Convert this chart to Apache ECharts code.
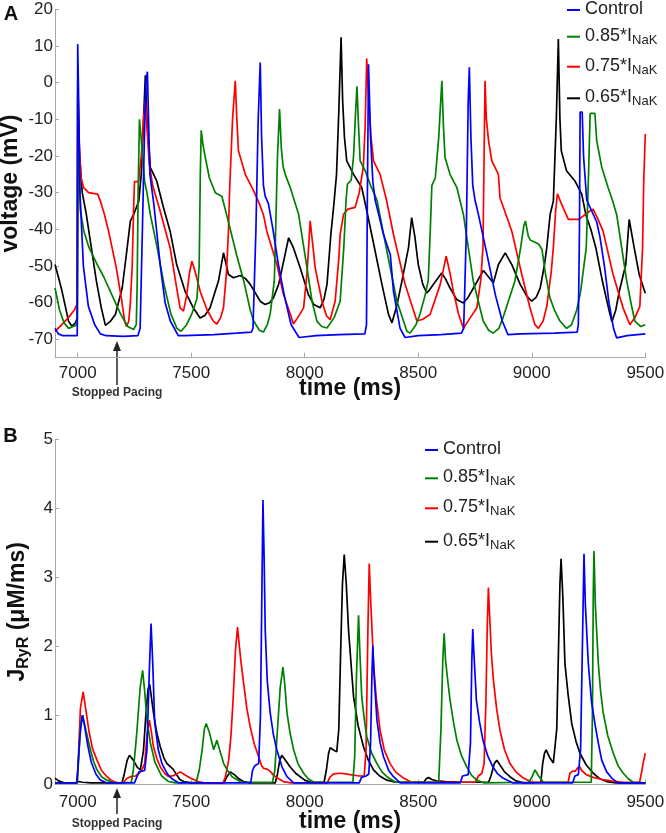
<!DOCTYPE html>
<html><head><meta charset="utf-8">
<script src="https://cdn.jsdelivr.net/npm/echarts@6/dist/echarts.min.js"></script>
<style>html,body{margin:0;padding:0;background:#fff}#c{width:666px;height:833px}</style>
</head><body><div id="c"></div>
<script>
// ---------- DATA (time ms, value) ----------
const seriesNames = ['Control', '0.85*I_NaK', '0.75*I_NaK', '0.65*I_NaK'];
const seriesColors = ['#0000ff', '#008000', '#ff0000', '#000000'];
const xTicks = [7000, 7500, 8000, 8500, 9000, 9500];
const voltTicks = [-70, -60, -50, -40, -30, -20, -10, 0, 10, 20];
const jryrTicks = [0, 1, 2, 3, 4, 5];
const pacingStopTime = 7173;

// Panel A: membrane voltage (mV)
const voltControl = [[6900,-67],[6915,-68.5],[6935,-69],[6998,-69],[7000,10.5],[7003,0],[7010,-30],[7025,-50],[7047,-61],[7075,-66],[7100,-68.5],[7125,-69],[7200,-69.2],[7265,-69],[7275,-67],[7285,-40],[7292,-20],[7300,0],[7307,3],[7312,-10],[7318,-25],[7335,-33],[7364,-50],[7385,-60],[7408,-65],[7443,-69],[7470,-69],[7600,-68.7],[7700,-68.3],[7765,-68],[7772,-67],[7785,-40],[7795,-10],[7804,5.5],[7810,-15],[7818,-28],[7826,-31],[7840,-33],[7860,-40],[7885,-50],[7910,-58],[7940,-66],[7975,-69.5],[8050,-69],[8150,-68.7],[8265,-68.5],[8272,-66],[8276,-30],[8281,5],[8290,-15],[8300,-27],[8310,-32],[8330,-37],[8345,-41],[8377,-47],[8391,-57],[8420,-67],[8442,-69.5],[8500,-69],[8600,-68.7],[8690,-68.3],[8700,-67],[8712,-40],[8720,-5],[8725,4.2],[8732,-15],[8740,-28],[8750,-32],[8765,-36],[8800,-46],[8840,-58],[8870,-65],[8895,-68.7],[8950,-68.5],[9100,-68.3],[9200,-68],[9205,-66],[9210,-40],[9213,-8],[9222,-8],[9228,-20],[9242,-32],[9286,-38],[9300,-42],[9320,-50],[9340,-60],[9360,-67],[9374,-69.6],[9420,-69],[9500,-68.5]];
const voltNaK85 = [[6900,-56],[6920,-62],[6940,-65.5],[6960,-67],[6980,-66.5],[6998,-66],[7000,0.5],[7004,-20],[7012,-35],[7027,-40.5],[7050,-45],[7085,-49.5],[7115,-53],[7144,-57],[7188,-63],[7220,-66.5],[7246,-67.3],[7258,-66],[7262,-55],[7266,-30],[7272,-10],[7278,-14],[7285,-20],[7295,-27],[7305,-30],[7320,-36],[7350,-45],[7380,-55],[7410,-63],[7437,-67],[7455,-67.8],[7480,-66],[7503,-63],[7525,-59],[7535,-50],[7540,-25],[7544,-13],[7552,-17],[7562,-20.4],[7580,-26],[7606,-30],[7620,-30.5],[7635,-31],[7660,-37],[7700,-47],[7731,-54],[7760,-62],[7775,-65],[7800,-67.5],[7818,-68],[7835,-66],[7848,-63],[7866,-54],[7872,-40],[7880,-20],[7889,-7.2],[7897,-18],[7905,-23],[7914,-25],[7936,-28.6],[7973,-35.9],[8010,-50.5],[8032,-59.6],[8054,-65.1],[8075,-66.5],[8098,-66.9],[8130,-64],[8156,-59.6],[8172,-45],[8182,-32],[8188,-27.7],[8205,-26.5],[8215,-20],[8224,-8],[8230,-1],[8237,-12],[8244,-21.3],[8266,-24],[8290,-28],[8318,-32],[8362,-46],[8406,-59.6],[8450,-67.8],[8464,-68.3],[8490,-66],[8508,-63],[8530,-58],[8544,-54],[8553,-40],[8560,-28],[8575,-26],[8590,-15],[8604,0.5],[8611,-12],[8618,-20.4],[8640,-25],[8670,-28.6],[8699,-36],[8742,-54],[8786,-65],[8810,-67.5],[8830,-68.3],[8855,-67],[8874,-64],[8900,-59],[8926,-54],[8951,-45],[8965,-39],[8972,-37.7],[8985,-42],[8995,-43],[9030,-44],[9045,-45.5],[9060,-52],[9080,-58.7],[9100,-62],[9124,-65],[9153,-67],[9175,-66],[9198,-62],[9215,-57],[9240,-45],[9250,-25],[9257,-8.4],[9278,-8.4],[9286,-15.9],[9308,-23],[9336,-28.6],[9355,-32],[9374,-36],[9396,-45],[9418,-54],[9440,-61],[9454,-65],[9480,-66.5],[9500,-66]];
const voltNaK75 = [[6900,-67.8],[6930,-66],[6960,-64],[6985,-62],[6997,-60.4],[7000,-3.3],[7005,-15],[7015,-26],[7026,-28.6],[7048,-30],[7088,-30.4],[7100,-32.3],[7118,-36],[7136,-40.5],[7170,-50.5],[7192,-58.7],[7207,-65.1],[7215,-66.5],[7225,-65],[7232,-60],[7240,-50],[7246,-35],[7250,-27],[7268,-27],[7280,-20],[7290,-10],[7298,-4.6],[7305,-12],[7315,-22],[7330,-28],[7363,-35],[7407,-45],[7436,-56],[7451,-61.4],[7466,-62.3],[7480,-58],[7492,-52],[7503,-48.7],[7515,-51],[7540,-57],[7570,-62],[7598,-65.1],[7613,-65.8],[7630,-64],[7642,-61.4],[7655,-52],[7664,-40.5],[7669,-29.5],[7672,-25],[7682,-10],[7694,0.5],[7701,-10],[7708,-18.6],[7738,-25],[7775,-29.5],[7800,-33],[7818,-36],[7833,-40.5],[7877,-49.5],[7906,-57.7],[7936,-63],[7950,-65.8],[7970,-64],[7995,-61.4],[8010,-52],[8024,-37.7],[8035,-44],[8046,-50.5],[8076,-59.6],[8095,-63.5],[8112,-64.6],[8134,-59.6],[8150,-48],[8156,-41.4],[8171,-35.9],[8190,-34.5],[8222,-34],[8240,-30],[8258,-23],[8266,-12],[8273,6.6],[8282,-5],[8292,-15],[8303,-21.3],[8332,-25],[8360,-32],[8391,-41.4],[8442,-55],[8494,-65],[8520,-64.5],[8552,-63.2],[8597,-55],[8623,-47.3],[8640,-52],[8655,-57],[8677,-63],[8699,-67],[8730,-64],[8758,-61.4],[8775,-54],[8785,-45],[8790,-20],[8794,0.5],[8800,-10],[8810,-16],[8824,-21.3],[8853,-25],[8860,-31.4],[8912,-40.5],[8956,-52.3],[8992,-61.4],[9014,-66],[9029,-67],[9050,-65],[9066,-61],[9085,-52],[9095,-45],[9105,-35],[9113,-30.3],[9130,-33],[9161,-37.3],[9205,-37.3],[9235,-36],[9256,-35],[9270,-34.5],[9290,-37],[9314,-40.5],[9358,-52.3],[9402,-61.4],[9432,-66],[9455,-64],[9476,-61],[9488,-45],[9493,-27],[9500,-14]];
const voltNaK65 = [[6900,-49.6],[6915,-53],[6931,-56.9],[6960,-65.1],[6975,-66.4],[6990,-65.5],[6998,-64.2],[7002,-4],[7008,-20],[7020,-30],[7038,-35.9],[7060,-45],[7082,-54],[7104,-61.4],[7122,-66.2],[7145,-65],[7166,-63.2],[7196,-56],[7218,-45],[7232,-37.7],[7247,-35.9],[7269,-32.3],[7280,-25],[7290,-10],[7298,2],[7305,-10],[7320,-23.2],[7348,-26.8],[7378,-34.1],[7407,-40.5],[7436,-49.6],[7473,-56.9],[7509,-61.4],[7539,-64.2],[7560,-63.5],[7583,-61.4],[7605,-57],[7620,-54.1],[7642,-46.4],[7664,-52.3],[7686,-53.2],[7715,-52.6],[7740,-53.5],[7760,-55],[7804,-59.6],[7825,-60.5],[7845,-60],[7862,-58.7],[7885,-55],[7906,-49],[7929,-42.3],[7950,-45],[7980,-50.5],[8016,-57.8],[8040,-60.5],[8068,-61.4],[8085,-59],[8098,-55],[8115,-41.4],[8127,-34],[8140,-25],[8150,-8],[8160,12.4],[8167,-5],[8175,-15],[8185,-21.3],[8215,-25],[8251,-28.6],[8270,-34],[8295,-41.4],[8340,-55],[8369,-63.2],[8384,-65.5],[8405,-61],[8428,-54.1],[8457,-45],[8471,-36.8],[8485,-42],[8500,-49.6],[8520,-55],[8537,-57.3],[8550,-56.5],[8567,-55],[8603,-51.9],[8620,-53.5],[8640,-56],[8669,-59.1],[8699,-60.1],[8720,-58.5],[8743,-56],[8787,-51.2],[8810,-53],[8831,-54.6],[8853,-49.6],[8883,-46.4],[8912,-49.6],[8949,-55],[8978,-58.2],[9000,-59.6],[9020,-58.5],[9037,-56],[9055,-50],[9066,-45],[9081,-35.9],[9095,-32.3],[9108,-10],[9117,11.9],[9124,-10],[9130,-18.6],[9153,-24],[9190,-26.8],[9220,-30.4],[9238,-36],[9260,-40],[9282,-45],[9311,-54.1],[9341,-62.3],[9353,-65.2],[9370,-62],[9385,-57],[9414,-49.6],[9429,-37.3],[9451,-45],[9473,-52.3],[9500,-57.4]];

// Panel B: RyR release flux (µM/ms)
const jryrControl = [[6900,0.02],[6995,0.02],[7000,0.2],[7010,0.7],[7020,1.0],[7030,0.85],[7045,0.55],[7060,0.32],[7080,0.15],[7100,0.06],[7130,0.02],[7250,0.02],[7260,0.1],[7270,0.18],[7295,0.2],[7305,0.5],[7315,1.6],[7323,2.33],[7330,1.8],[7339,0.9],[7355,0.5],[7371,0.3],[7395,0.15],[7415,0.08],[7445,0.02],[7762,0.02],[7770,0.2],[7780,0.27],[7797,0.3],[7805,1.0],[7812,3.0],[7816,4.12],[7821,3.3],[7826,2.23],[7835,1.5],[7848,1.03],[7862,0.72],[7877,0.5],[7900,0.25],[7922,0.11],[7951,0.02],[8240,0.02],[8250,0.1],[8270,0.12],[8282,0.15],[8290,0.6],[8296,1.6],[8300,2.01],[8305,1.6],[8318,0.93],[8332,0.6],[8347,0.4],[8370,0.2],[8391,0.11],[8420,0.02],[8685,0.02],[8695,0.12],[8720,0.14],[8730,0.6],[8736,1.8],[8740,2.25],[8745,1.9],[8756,1.22],[8770,0.9],[8785,0.64],[8805,0.42],[8829,0.25],[8850,0.15],[8873,0.09],[8917,0.02],[9180,0.02],[9190,0.12],[9205,0.14],[9215,0.5],[9224,2.2],[9230,3.34],[9236,2.6],[9249,1.75],[9263,1.2],[9278,0.88],[9293,0.6],[9308,0.35],[9330,0.18],[9352,0.09],[9380,0.02],[9500,0.02]];
const jryrNaK85 = [[6900,0.02],[6998,0.02],[7003,0.3],[7012,0.85],[7022,1.0],[7035,0.8],[7056,0.5],[7070,0.33],[7085,0.21],[7105,0.11],[7129,0.06],[7160,0.02],[7236,0.03],[7245,0.2],[7255,0.55],[7261,0.78],[7275,1.4],[7286,1.65],[7295,1.35],[7305,0.93],[7320,0.6],[7340,0.32],[7370,0.12],[7400,0.04],[7430,0.02],[7522,0.03],[7535,0.2],[7548,0.5],[7558,0.8],[7566,0.88],[7580,0.75],[7599,0.5],[7613,0.64],[7625,0.5],[7643,0.3],[7660,0.2],[7680,0.11],[7720,0.03],[7858,0.03],[7868,0.2],[7880,0.8],[7892,1.4],[7904,1.7],[7912,1.45],[7922,1.03],[7935,0.75],[7951,0.5],[7970,0.3],[7995,0.16],[8015,0.08],[8040,0.03],[8212,0.03],[8220,0.4],[8228,1.6],[8237,2.45],[8243,1.9],[8251,1.27],[8262,0.95],[8273,0.69],[8295,0.45],[8318,0.3],[8340,0.18],[8362,0.11],[8400,0.03],[8590,0.03],[8600,0.8],[8608,1.8],[8614,2.19],[8620,1.8],[8630,1.5],[8640,1.22],[8655,0.9],[8670,0.64],[8690,0.42],[8714,0.25],[8735,0.13],[8758,0.06],[8790,0.02],[8985,0.03],[9000,0.1],[9014,0.21],[9030,0.12],[9051,0.03],[9262,0.03],[9267,1.0],[9271,2.8],[9274,3.38],[9280,2.6],[9293,1.75],[9303,1.35],[9315,1.03],[9335,0.7],[9359,0.45],[9380,0.27],[9403,0.16],[9425,0.08],[9447,0.03],[9500,0.02]];
const jryrNaK75 = [[6900,0.02],[6998,0.02],[7003,0.4],[7012,1.1],[7024,1.34],[7035,1.1],[7049,0.78],[7065,0.52],[7085,0.35],[7105,0.2],[7129,0.11],[7150,0.05],[7175,0.02],[7200,0.02],[7215,0.08],[7232,0.11],[7255,0.12],[7270,0.16],[7283,0.21],[7295,0.3],[7305,0.7],[7316,0.93],[7325,0.75],[7334,0.54],[7348,0.38],[7364,0.25],[7385,0.15],[7400,0.11],[7425,0.13],[7452,0.18],[7475,0.13],[7496,0.09],[7530,0.04],[7555,0.02],[7640,0.02],[7650,0.1],[7665,0.35],[7675,0.7],[7684,1.2],[7695,1.95],[7704,2.28],[7712,2.0],[7720,1.75],[7731,1.46],[7745,1.1],[7760,0.83],[7778,0.58],[7797,0.4],[7810,0.27],[7819,0.23],[7835,0.22],[7850,0.18],[7863,0.13],[7885,0.08],[7906,0.04],[7940,0.02],[8100,0.02],[8110,0.1],[8127,0.15],[8160,0.16],[8200,0.14],[8240,0.12],[8262,0.12],[8270,0.5],[8278,2.2],[8284,3.2],[8290,2.7],[8303,1.75],[8315,1.25],[8332,0.78],[8350,0.5],[8376,0.3],[8400,0.18],[8435,0.09],[8470,0.03],[8750,0.03],[8765,0.12],[8780,0.16],[8790,0.3],[8798,1.2],[8804,2.3],[8809,2.85],[8815,2.4],[8822,1.9],[8831,1.51],[8845,1.1],[8860,0.78],[8880,0.5],[8904,0.3],[8930,0.18],[8963,0.09],[9000,0.03],[9160,0.03],[9168,0.16],[9180,0.19],[9192,0.19],[9200,0.23],[9210,0.26],[9220,0.2],[9240,0.14],[9270,0.1],[9310,0.07],[9350,0.05],[9400,0.03],[9475,0.03],[9485,0.2],[9490,0.3],[9500,0.45]];
const jryrNaK65 = [[6900,0.09],[6915,0.05],[6940,0.02],[6995,0.02],[7005,0.04],[7020,0.03],[7060,0.02],[7195,0.02],[7205,0.15],[7218,0.35],[7228,0.42],[7245,0.35],[7262,0.25],[7276,0.21],[7290,0.5],[7300,1.0],[7310,1.38],[7317,1.45],[7325,1.25],[7334,1.03],[7348,0.75],[7364,0.54],[7380,0.38],[7393,0.3],[7403,0.27],[7411,0.28],[7420,0.22],[7437,0.13],[7450,0.07],[7466,0.04],[7500,0.02],[7645,0.02],[7655,0.1],[7672,0.18],[7690,0.14],[7710,0.08],[7730,0.04],[7760,0.02],[7870,0.02],[7880,0.15],[7890,0.35],[7899,0.42],[7915,0.35],[7936,0.25],[7960,0.16],[7980,0.11],[8000,0.06],[8025,0.03],[8085,0.03],[8095,0.2],[8105,0.45],[8112,0.53],[8125,0.5],[8141,0.47],[8150,0.8],[8158,1.9],[8166,2.9],[8174,3.33],[8183,2.9],[8193,2.23],[8205,1.7],[8215,1.27],[8235,0.85],[8259,0.54],[8280,0.35],[8303,0.21],[8330,0.12],[8362,0.06],[8400,0.03],[8525,0.03],[8535,0.08],[8545,0.1],[8560,0.07],[8580,0.05],[8620,0.04],[8700,0.03],[8810,0.03],[8820,0.12],[8835,0.3],[8846,0.35],[8860,0.28],[8880,0.18],[8904,0.11],[8930,0.05],[8965,0.02],[9040,0.03],[9048,0.3],[9056,0.45],[9063,0.5],[9080,0.38],[9095,0.31],[9102,0.3],[9110,0.8],[9118,2.0],[9124,2.9],[9129,3.27],[9137,2.7],[9146,1.75],[9160,1.3],[9176,0.88],[9195,0.62],[9212,0.45],[9240,0.28],[9271,0.16],[9300,0.08],[9330,0.04],[9370,0.02],[9500,0.02]];

const voltData = [voltControl, voltNaK85, voltNaK75, voltNaK65];
const jryrData = [jryrControl, jryrNaK85, jryrNaK75, jryrNaK65];

// ---------- STYLE ----------
const FONT = 'Liberation Sans, Arial, sans-serif';
const AXIS_GRAY = '#a8a8a8';
const TXT = '#222';

const chart = echarts.init(document.getElementById('c'), null, {renderer: 'canvas'});

function xAxisFor(gridIndex, labelMargin, nameGap) {
  return {
    type: 'value', gridIndex, min: 6900, max: 9500,
    name: 'time (ms)', nameLocation: 'middle', nameGap, nameMoveOverlap: false,
    nameTextStyle: {fontFamily: FONT, fontSize: 23, fontWeight: 'bold', color: '#111', verticalAlign: 'middle'},
    axisLine: {show: true, onZero: false, lineStyle: {color: AXIS_GRAY, width: 1}},
    axisTick: {show: true, inside: true, length: 5, lineStyle: {color: AXIS_GRAY}, customValues: xTicks},
    axisLabel: {fontFamily: FONT, fontSize: 17, color: TXT, margin: labelMargin, customValues: xTicks, formatter: (v) => String(v)},
    splitLine: {show: false}
  };
}

function legendRows(left, tops) {
  return seriesNames.map((n, i) => ({
    data: [n], left, top: tops[i], padding: 0, orient: 'vertical',
    icon: 'rect', itemWidth: 13, itemHeight: 2, selectedMode: false,
    formatter: (name) => name === 'Control' ? '{m|Control}' : '{m|' + name.split('_')[0] + '}{s|NaK}',
    textStyle: {
      rich: {
        m: {fontFamily: FONT, fontSize: 18, color: TXT, lineHeight: 20, verticalAlign: 'top'},
        s: {fontFamily: FONT, fontSize: 13, color: TXT, lineHeight: 13, padding: [12, 0, 0, 0], verticalAlign: 'bottom'}
      }
    }
  }));
}

const series = [];
voltData.forEach((d, i) => series.push({
  name: seriesNames[i], type: 'line', xAxisIndex: 0, yAxisIndex: 0, data: d,
  showSymbol: false, symbol: 'none', lineStyle: {width: 1.7, color: seriesColors[i]},
  itemStyle: {color: seriesColors[i]}, z: 10 - i
}));
jryrData.forEach((d, i) => series.push({
  name: seriesNames[i], type: 'line', xAxisIndex: 1, yAxisIndex: 1, data: d,
  showSymbol: false, symbol: 'none', lineStyle: {width: 1.7, color: seriesColors[i]},
  itemStyle: {color: seriesColors[i]}, z: 10 - i
}));

const option = {
  animation: false,
  backgroundColor: '#fff',
  grid: [
    {left: 55, top: 9.3, width: 590.3, height: 348.4, containLabel: false, outerBoundsMode: 'none'},
    {left: 55, top: 439.3, width: 590.3, height: 345, containLabel: false, outerBoundsMode: 'none'}
  ],
  xAxis: [xAxisFor(0, 7, 31), xAxisFor(1, 10, 37)],
  yAxis: [
    {
      type: 'value', gridIndex: 0, min: -75, max: 20,
      name: 'voltage (mV)', nameLocation: 'middle', nameGap: 44, nameRotate: 90, nameMoveOverlap: false,
      nameTextStyle: {fontFamily: FONT, fontSize: 23, fontWeight: 'bold', color: '#111', verticalAlign: 'middle'},
      axisLine: {show: true, onZero: false, lineStyle: {color: AXIS_GRAY}},
      axisTick: {show: true, inside: true, length: 4, lineStyle: {color: AXIS_GRAY}, customValues: voltTicks},
      axisLabel: {fontFamily: FONT, fontSize: 17, color: TXT, margin: 2, customValues: voltTicks},
      splitLine: {show: false}
    },
    {
      type: 'value', gridIndex: 1, min: 0, max: 5, interval: 1,
      name: '{j|J}{sub|RyR}{j| (μM/ms)}', nameLocation: 'middle', nameGap: 36, nameRotate: 90, nameMoveOverlap: false,
      nameTextStyle: {
        verticalAlign: 'middle',
        rich: {
          j: {fontFamily: FONT, fontSize: 23, fontWeight: 'bold', color: '#111', lineHeight: 26, verticalAlign: 'top'},
          sub: {fontFamily: FONT, fontSize: 16, fontWeight: 'bold', color: '#111', lineHeight: 16, padding: [18, 0, 0, 0], verticalAlign: 'bottom'}
        }
      },
      axisLine: {show: true, onZero: false, lineStyle: {color: AXIS_GRAY}},
      axisTick: {show: true, inside: true, length: 4, lineStyle: {color: AXIS_GRAY}, customValues: jryrTicks},
      axisLabel: {fontFamily: FONT, fontSize: 17, color: TXT, margin: 2, customValues: jryrTicks},
      splitLine: {show: false}
    }
  ],
  legend: [].concat(legendRows(567, [0, 21.7, 51.7, 83.3]), legendRows(425, [440, 463.3, 493.3, 526.7])),
  series
};
chart.setOption(option);

// Annotations anchored on the data scale
const ax = chart.convertToPixel({xAxisIndex: 0}, pacingStopTime);
const bx = chart.convertToPixel({xAxisIndex: 1}, pacingStopTime);
function arrow(x, tipY, baseY, textY) {
  return [
    {type: 'line', shape: {x1: x, y1: tipY + 8, x2: x, y2: baseY}, style: {stroke: '#222', lineWidth: 1.5}},
    {type: 'polygon', shape: {points: [[x, tipY], [x - 4, tipY + 10], [x + 4, tipY + 10]]}, style: {fill: '#222'}},
    {type: 'text', x: x, y: textY, style: {text: 'Stopped Pacing', fontFamily: FONT, fontSize: 12, fontWeight: 'bold', fill: '#333', textAlign: 'center', textVerticalAlign: 'middle'}}
  ];
}
chart.setOption({
  graphic: [].concat(
    arrow(ax, 341, 385, 393),
    arrow(bx, 788, 814, 824),
    [
      {type: 'text', x: 11, y: 14, style: {text: 'A', fontFamily: FONT, fontSize: 20, fontWeight: 'bold', fill: '#111', textAlign: 'center', textVerticalAlign: 'middle'}},
      {type: 'text', x: 10.5, y: 436.5, style: {text: 'B', fontFamily: FONT, fontSize: 20, fontWeight: 'bold', fill: '#111', textAlign: 'center', textVerticalAlign: 'middle'}}
    ]
  )
});
</script>
</body></html>
